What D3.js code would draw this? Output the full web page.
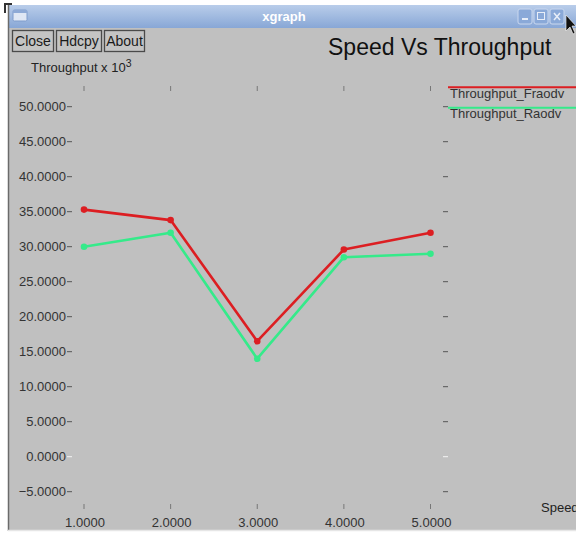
<!DOCTYPE html>
<html>
<head>
<meta charset="utf-8">
<script src="https://cdn.jsdelivr.net/npm/d3@7"></script>
<style>
  html, body { margin: 0; padding: 0; background: #ffffff; }
  svg { display: block; font-family: "Liberation Sans", Arial, sans-serif; }
</style>
</head>
<body>
<svg id="chart" width="576" height="534"></svg>
<script>
// Speed (x) vs throughput (x 10^3) for two routing variants
const speeds = [1, 2, 3, 4, 5];
const fraodv = [35.3, 33.8, 16.5, 29.6, 32.0];
const raodv  = [30.0, 32.0, 14.0, 28.5, 29.0];
const seriesNames = ["Throughput_Fraodv", "Throughput_Raodv"];
const yTicks = [-5, 0, 5, 10, 15, 20, 25, 30, 35, 40, 45, 50];
const xTicks = [1, 2, 3, 4, 5];
const buttons = ["Close", "Hdcpy", "About"];

const svg = d3.select("#chart");
const W = 576, H = 534;

// ---- window frame ----
const defs = svg.append("defs");
const grad = defs.append("linearGradient").attr("id", "tb").attr("x1", 0).attr("y1", 0).attr("x2", 0).attr("y2", 1);
grad.append("stop").attr("offset", "0%").attr("stop-color", "#b9cdea");
grad.append("stop").attr("offset", "100%").attr("stop-color", "#88a7d6");

svg.append("rect").attr("x", 8).attr("y", 5).attr("width", W - 8).attr("height", 526).attr("fill", "#c0c0c0");
svg.append("rect").attr("x", 8).attr("y", 5).attr("width", W - 8).attr("height", 23).attr("fill", "url(#tb)");
svg.append("line").attr("x1", 8.5).attr("x2", 8.5).attr("y1", 5).attr("y2", 531).attr("stroke", "#6b6b6b").attr("stroke-width", 1.5);
svg.append("line").attr("x1", 8).attr("x2", W).attr("y1", 530.5).attr("y2", 530.5).attr("stroke", "#e6e6e6").attr("stroke-width", 1.5);
svg.append("path").attr("d", "M5,13 L5,4 L12,4").attr("fill", "none").attr("stroke", "#333").attr("stroke-width", 2);

// window icon and title
svg.append("rect").attr("x", 13).attr("y", 10).attr("width", 14).attr("height", 11).attr("rx", 1.5)
  .attr("fill", "#dfe7f4").attr("stroke", "#7f9ccc");
svg.append("rect").attr("x", 13).attr("y", 10).attr("width", 14).attr("height", 3).attr("fill", "#8eaad6");
svg.append("text").attr("x", 284).attr("y", 21).attr("text-anchor", "middle")
  .attr("font-size", 13).attr("font-weight", "bold").attr("fill", "#ffffff").text("xgraph");

// window control buttons
[518, 534, 550].forEach((bx, i) => {
  svg.append("rect").attr("x", bx).attr("y", 9).attr("width", 14).attr("height", 15).attr("rx", 2)
    .attr("fill", "#8aa9d8").attr("stroke", "#c9d7ee").attr("stroke-width", 1);
  if (i === 0) svg.append("rect").attr("x", bx + 4).attr("y", 18).attr("width", 6).attr("height", 2).attr("fill", "#e8eef8");
  if (i === 1) svg.append("rect").attr("x", bx + 3.5).attr("y", 12.5).attr("width", 7).attr("height", 7).attr("fill", "none").attr("stroke", "#e8eef8");
  if (i === 2) svg.append("path").attr("d", `M${bx + 4},13 L${bx + 10},20 M${bx + 10},13 L${bx + 4},20`).attr("stroke", "#e8eef8").attr("stroke-width", 1.5);
});
// pointer
svg.append("path").attr("d", "M566,15 L566,31 L570,27 L573,34 L575,33 L572,26 L576,26 Z")
  .attr("fill", "#111").attr("stroke", "#fff").attr("stroke-width", 0.6);

// ---- xgraph buttons ----
const btnX = [12, 56, 104], btnW = [41, 45, 40];
buttons.forEach((b, i) => {
  svg.append("rect").attr("x", btnX[i] + 0.5).attr("y", 30.5).attr("width", btnW[i]).attr("height", 21)
    .attr("fill", "#c4c4c4").attr("stroke", "#4a4a4a").attr("stroke-width", 1.3);
  svg.append("text").attr("x", btnX[i] + btnW[i] / 2 + 0.5).attr("y", 46).attr("text-anchor", "middle")
    .attr("font-size", 14).attr("fill", "#1a1a1a").text(b);
});

// chart title
svg.append("text").attr("x", 328).attr("y", 55).attr("font-size", 23).attr("fill", "#111").text("Speed Vs Throughput");

// y-axis unit label
const yl = svg.append("text").attr("x", 31).attr("y", 72).attr("font-size", 13).attr("fill", "#222");
yl.append("tspan").text("Throughput x 10");
yl.append("tspan").attr("dy", -5).attr("font-size", 10.5).text("3");

// ---- scales ----
const x = d3.scaleLinear().domain([1, 5]).range([84, 430.5]);
const y = d3.scaleLinear().domain([0, 50]).range([456.7, 106.7]);
const fmt = d3.format(".4f");

// y tick labels and edge ticks
const gy = svg.append("g");
yTicks.forEach(t => {
  const c = t === 0 ? "#f4f4f4" : "#555";
  gy.append("text").attr("x", 66).attr("y", y(t)).attr("dy", "0.36em").attr("text-anchor", "end")
    .attr("font-size", 13).attr("fill", "#333").text(fmt(t));
  gy.append("line").attr("x1", 67).attr("x2", 72).attr("y1", y(t)).attr("y2", y(t)).attr("stroke", c).attr("stroke-width", 1);
  gy.append("line").attr("x1", 443).attr("x2", 448).attr("y1", y(t)).attr("y2", y(t)).attr("stroke", c).attr("stroke-width", 1);
});

// x tick labels and edge ticks
const gx = svg.append("g");
xTicks.forEach(t => {
  gx.append("line").attr("x1", x(t)).attr("x2", x(t)).attr("y1", 86).attr("y2", 91).attr("stroke", "#777").attr("stroke-width", 1);
  gx.append("line").attr("x1", x(t)).attr("x2", x(t)).attr("y1", 504).attr("y2", 509).attr("stroke", "#777").attr("stroke-width", 1);
  gx.append("text").attr("x", x(t) + 1).attr("y", 527).attr("text-anchor", "middle")
    .attr("font-size", 13).attr("fill", "#333").text(fmt(t));
});

// x-axis label, running off the window's right edge
svg.append("text").attr("x", 541).attr("y", 512).attr("font-size", 13).attr("fill", "#222").text("Speed");

// ---- series ----
const series = [
  { name: seriesNames[0], values: fraodv, color: "#dc1e22" },
  { name: seriesNames[1], values: raodv, color: "#35ea8a" }
];
const line = d3.line().x((d, i) => x(speeds[i])).y(d => y(d));

series.slice().reverse().forEach(s => {
  svg.append("path").datum(s.values).attr("d", line).attr("fill", "none")
    .attr("stroke", s.color).attr("stroke-width", 2.6).attr("stroke-linejoin", "round");
  svg.append("g").selectAll("circle").data(s.values).join("circle")
    .attr("cx", (d, i) => x(speeds[i])).attr("cy", d => y(d)).attr("r", 3.3).attr("fill", s.color);
});

// ---- legend ----
series.forEach((s, i) => {
  const ly = 87.3 + i * 20.5;
  svg.append("line").attr("x1", 448).attr("x2", W).attr("y1", ly).attr("y2", ly)
    .attr("stroke", s.color).attr("stroke-width", 2);
  svg.append("text").attr("x", 450).attr("y", ly + 10.5).attr("font-size", 13).attr("fill", "#333").text(s.name);
});
</script>
</body>
</html>
